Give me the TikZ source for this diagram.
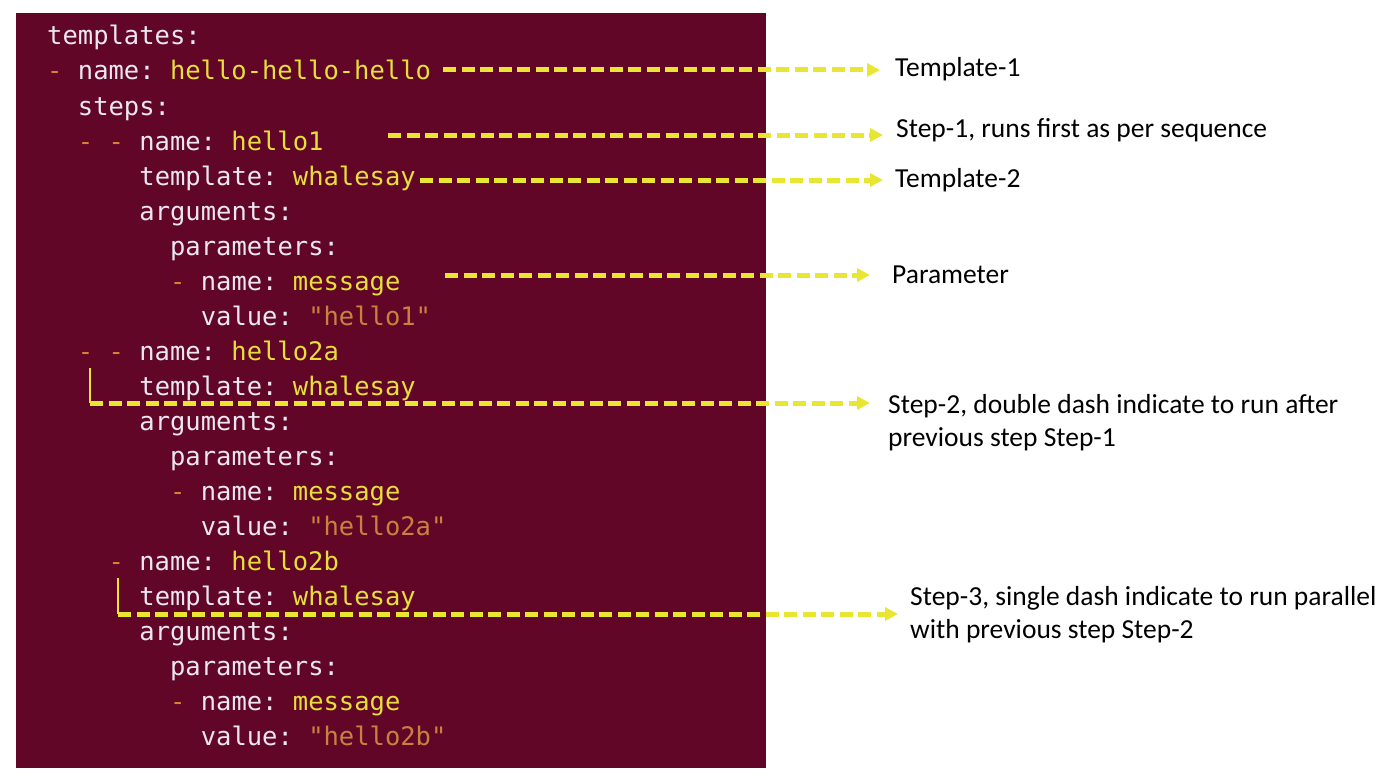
\documentclass[tikz,border=0pt]{standalone}
\usepackage{fontspec}
\setmonofont{DejaVu Sans Mono}
\newfontfamily\notefont{Carlito}
\usetikzlibrary{arrows.meta}
\definecolor{codebg}{RGB}{97,6,38}
\definecolor{keycol}{RGB}{236,230,242}
\definecolor{valcol}{RGB}{230,222,60}
\definecolor{strcol}{RGB}{200,130,64}
\definecolor{dashcol}{RGB}{214,128,58}
\definecolor{arrowcol}{RGB}{232,230,50}
\newcommand{\ckey}[1]{\textcolor{keycol}{#1}}
\newcommand{\cval}[1]{\textcolor{valcol}{#1}}
\newcommand{\cstr}[1]{\textcolor{strcol}{#1}}
\newcommand{\cdash}{\textcolor{dashcol}{-}}
\tikzset{
	codeline/.style={anchor=base west, inner sep=0pt, text=keycol,
		font=\ttfamily\fontsize{25.5}{35}\selectfont},
	notetext/.style={anchor=base west, inner sep=0pt, align=left, text=black,
		font=\notefont\fontsize{27.5}{33}\selectfont},
	pointer/.style={draw=arrowcol, line width=5pt, dash pattern=on 13pt off 5.5pt,
		-{Triangle[length=13pt,width=13pt]}},
	bracket/.style={draw=arrowcol, line width=1.5pt},
}
\begin{document}
\begin{tikzpicture}[x=1pt,y=-1pt]
\useasboundingbox (0,0) rectangle (1400,784);
\fill[codebg] (16,13) rectangle (766,768);

% the yaml listing
\node[codeline] (l0) at (47,45) {\ckey{templates:}};
\node[codeline] (l1) at (47,80) {\cdash{} \ckey{name:} \cval{hello-hello-hello}};
\node[codeline] (l2) at (77.7,115) {\ckey{steps:}};
\node[codeline] (l3) at (77.7,150) {\cdash{} \cdash{} \ckey{name:} \cval{hello1}};
\node[codeline] (l4) at (139.2,185) {\ckey{template:} \cval{whalesay}};
\node[codeline] (l5) at (139.2,220) {\ckey{arguments:}};
\node[codeline] (l6) at (169.9,255) {\ckey{parameters:}};
\node[codeline] (l7) at (169.9,290) {\cdash{} \ckey{name:} \cval{message}};
\node[codeline] (l8) at (200.6,325) {\ckey{value:} \cstr{"hello1"}};
\node[codeline] (l9) at (77.7,360) {\cdash{} \cdash{} \ckey{name:} \cval{hello2a}};
\node[codeline] (l10) at (139.2,395) {\ckey{template:} \cval{whalesay}};
\node[codeline] (l11) at (139.2,430) {\ckey{arguments:}};
\node[codeline] (l12) at (169.9,465) {\ckey{parameters:}};
\node[codeline] (l13) at (169.9,500) {\cdash{} \ckey{name:} \cval{message}};
\node[codeline] (l14) at (200.6,535) {\ckey{value:} \cstr{"hello2a"}};
\node[codeline] (l15) at (108.4,570) {\cdash{} \ckey{name:} \cval{hello2b}};
\node[codeline] (l16) at (139.2,605) {\ckey{template:} \cval{whalesay}};
\node[codeline] (l17) at (139.2,640) {\ckey{arguments:}};
\node[codeline] (l18) at (169.9,675) {\ckey{parameters:}};
\node[codeline] (l19) at (169.9,710) {\cdash{} \ckey{name:} \cval{message}};
\node[codeline] (l20) at (200.6,745) {\ckey{value:} \cstr{"hello2b"}};

% notes (two-line notes sit on their last baseline)
\node[notetext] (n1) at (895,77) {Template-1};
\node[notetext] (n2) at (896,137) {Step-1, runs first as per sequence};
\node[notetext] (n3) at (895,187) {Template-2};
\node[notetext] (n4) at (892,283) {Parameter};
\node[notetext] (n5) at (888,446) {Step-2, double dash indicate to run after\\previous step Step-1};
\node[notetext] (n6) at (910,638) {Step-3, single dash indicate to run parallel\\with previous step Step-2};

% pointers
\coordinate (a1) at (443,70);
\coordinate (a2) at (388,135);
\coordinate (a3) at (420,180);
\coordinate (a4) at (445,275);
\coordinate (a5) at (90,403);
\coordinate (a6) at (118,614);
\coordinate (b5) at (90,368);
\coordinate (b6) at (118,578);
\draw[pointer, shorten >=15pt] (a1) -- (a1 -| n1.west);
\draw[pointer, shorten >=13pt] (a2) -- (a2 -| n2.west);
\draw[pointer, shorten >=12pt] (a3) -- (a3 -| n3.west);
\draw[pointer, shorten >=22pt] (a4) -- (a4 -| n4.west);
\draw[bracket] (b5) -- (a5);
\draw[pointer, shorten >=18pt] (a5) -- (a5 -| n5.west);
\draw[bracket] (b6) -- (a6);
\draw[pointer, shorten >=12pt] (a6) -- (a6 -| n6.west);
\end{tikzpicture}
\end{document}
